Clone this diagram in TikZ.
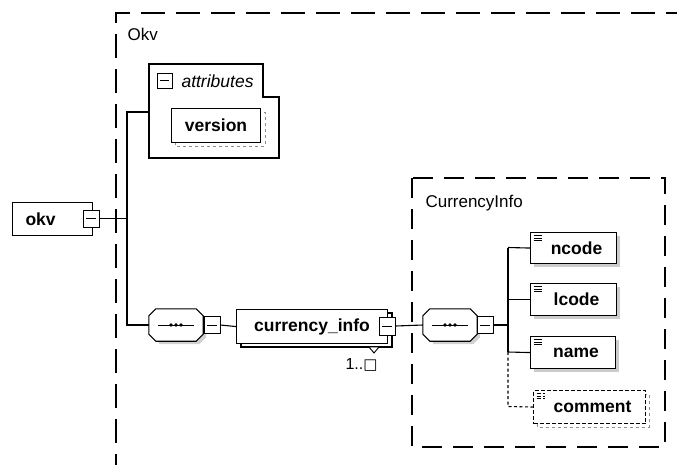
\documentclass[tikz,border=0pt]{standalone}
\usepackage{fontspec}
\setmainfont{Liberation Sans}
\newfontfamily\symfont{DejaVu Sans}
\newcommand\elfont{\fontsize{17.5}{20}\selectfont\bfseries}
\newcommand\lblfont{\fontsize{17}{20}\selectfont}
\newcommand\drawseq[1]{%
  \fill[black!18] ([xshift=10pt,yshift=-3pt]#1.north west) -- ([xshift=-4pt,yshift=-3pt]#1.north east) -- ([xshift=3pt,yshift=-10pt]#1.north east) -- ([xshift=3pt,yshift=4pt]#1.south east) -- ([xshift=-4pt,yshift=-3pt]#1.south east) -- ([xshift=10pt,yshift=-3pt]#1.south west) -- cycle;
  \draw[line width=1.1pt, fill=white] ([xshift=7pt]#1.north west) -- ([xshift=-7pt]#1.north east) -- ([yshift=-7pt]#1.north east) -- ([yshift=7pt]#1.south east) -- ([xshift=-7pt]#1.south east) -- ([xshift=7pt]#1.south west) -- ([yshift=7pt]#1.south west) -- ([yshift=-7pt]#1.north west) -- cycle;
  \draw[line width=1pt] ([xshift=9pt]#1.west) -- ([xshift=-9pt]#1.east);
  \foreach \dx in {-5,0,5} \fill ([xshift=\dx pt]#1.center) circle (1.8pt);}
\begin{document}
\begin{tikzpicture}[x=1pt,y=-1pt,
  box/.style={draw=black, line width=1.1pt, fill=white, inner sep=0pt},
  elem/.style={box, minimum height=32, anchor=north west, font=\elfont,
    path picture={\foreach \d in {3,5.5,8} \draw[line width=0.7pt] ([xshift=3pt,yshift=-\d pt]path picture bounding box.north west) -- ++(8pt,0pt);}},
  shad/.style={fill=black!20, draw=none},
  icon/.style={draw=black, line width=0.9pt, fill=white, minimum width=16, minimum height=17, inner sep=0pt,
    path picture={\draw[line width=1pt] ([xshift=3pt]path picture bounding box.west) -- ([xshift=-3pt]path picture bounding box.east);}},
  seq/.style={minimum width=54, minimum height=32, inner sep=0pt},
  wire/.style={line width=1.1pt},
  grp/.style={line width=1.2pt, dash pattern=on 24pt off 11pt},
  grpin/.style={line width=1.2pt, dash pattern=on 20pt off 11pt},
  lbl/.style={font=\lblfont}
]
\useasboundingbox (0,0) rectangle (677,464);
\clip (0,0) rectangle (677,464);

% outer group Okv
\draw[grp] (690,13) -- (116,13) -- (116,480);
\node[lbl, anchor=base west] (okvlbl) at (124,40) {Okv};

% attributes
\draw[box] (149,64) -- (263,64) -- (263,97) -- (279,97) -- (279,158) -- (149,158) -- cycle;
\coordinate (attr) at (149,112);
\node[icon, minimum width=15, minimum height=15] (attri) at (164.5,80.5) {};
\node[anchor=base west, font=\fontsize{17.5}{20}\selectfont\itshape] (attrlbl) at (178,87) {attributes};
\draw[dashed, black!45, line width=0.8pt] (175,112) rectangle (265,146);
\node[box, minimum width=89, minimum height=34, anchor=north west, font=\elfont] (version) at (171,108) {version};

% root element okv
\node[box, anchor=north west, minimum height=33, text width=54, inner xsep=13pt, align=left, font=\elfont] (okv) at (12,202) {okv};
\node[icon] (okvi) at (91,218.5) {};

% sequence 1
\coordinate (j1) at (127,218.5);
\coordinate (jt) at (127,112);
\coordinate (jb) at (127,325);
\node[seq] (seq1) at (176,325) {};
\drawseq{seq1}
\node[icon] (seq1i) at (212,325) {};

\draw[wire] (okvi.east) -- (j1);
\draw[wire] (attr) -- (jt) -- (jb) -- (seq1.west);

% currency_info
\draw[box] (241,313) rectangle (392,347);
\node[box, minimum width=151, minimum height=34, anchor=north west, font=\elfont] (ci) at (236,309) {currency\_info\hspace{3pt}};
\node[icon, minimum height=18] (cii) at (387,326) {};
\draw[line width=0.9pt, fill=white] (369,347) -- (379,347) -- (374,353) -- cycle;
\node[font=\fontsize{16}{19}\selectfont, anchor=base east] (mult) at (381,369) {1..{\symfont\fontsize{15}{17}\selectfont □}};
\draw[wire] (seq1i.east) -- (ci.west);

% CurrencyInfo group
\draw[grpin] (412,178) rectangle (665,447);
\node[lbl, anchor=base west] (cilbl) at (422,207) {CurrencyInfo};

% sequence 2
\node[seq] (seq2) at (450,325) {};
\drawseq{seq2}
\node[icon] (seq2i) at (485,325) {};
\draw[wire] (cii.east) -- (seq2.west);

% children
\fill[shad] (534,236) rectangle (620,267);
\node[elem, minimum width=86, minimum height=31] (ncode) at (530,232) {\hspace{6pt}ncode};
\fill[shad] (534,287) rectangle (620,319);
\node[elem, minimum width=86] (lcode) at (530,283) {\hspace{6pt}lcode};
\fill[shad] (534,340) rectangle (619,372);
\node[elem, minimum width=85] (name) at (530,336) {\hspace{6pt}name};
\draw[dashed, black!45, line width=0.9pt] (537,394) rectangle (649,427);
\node[elem, dash pattern=on 4pt off 2pt, minimum width=112, minimum height=33] (comment) at (533,390) {\hspace{6pt}comment};

\coordinate (j2) at (508,325);
\coordinate (v1) at (508,247.5);
\coordinate (v3) at (508,352);
\coordinate (v4) at (508,406.5);
\draw[wire] (seq2i.east) -- (j2);
\draw[wire] (v1) -- (v3);
\draw[wire] (v1) -- (ncode.west);
\draw[wire] (lcode.west -| j2) -- (lcode.west);
\draw[wire] (v3) -- (name.west);
\draw[wire, dash pattern=on 3pt off 2.5pt] (v3) -- (v4) -- (comment.west);
\end{tikzpicture}
\end{document}
